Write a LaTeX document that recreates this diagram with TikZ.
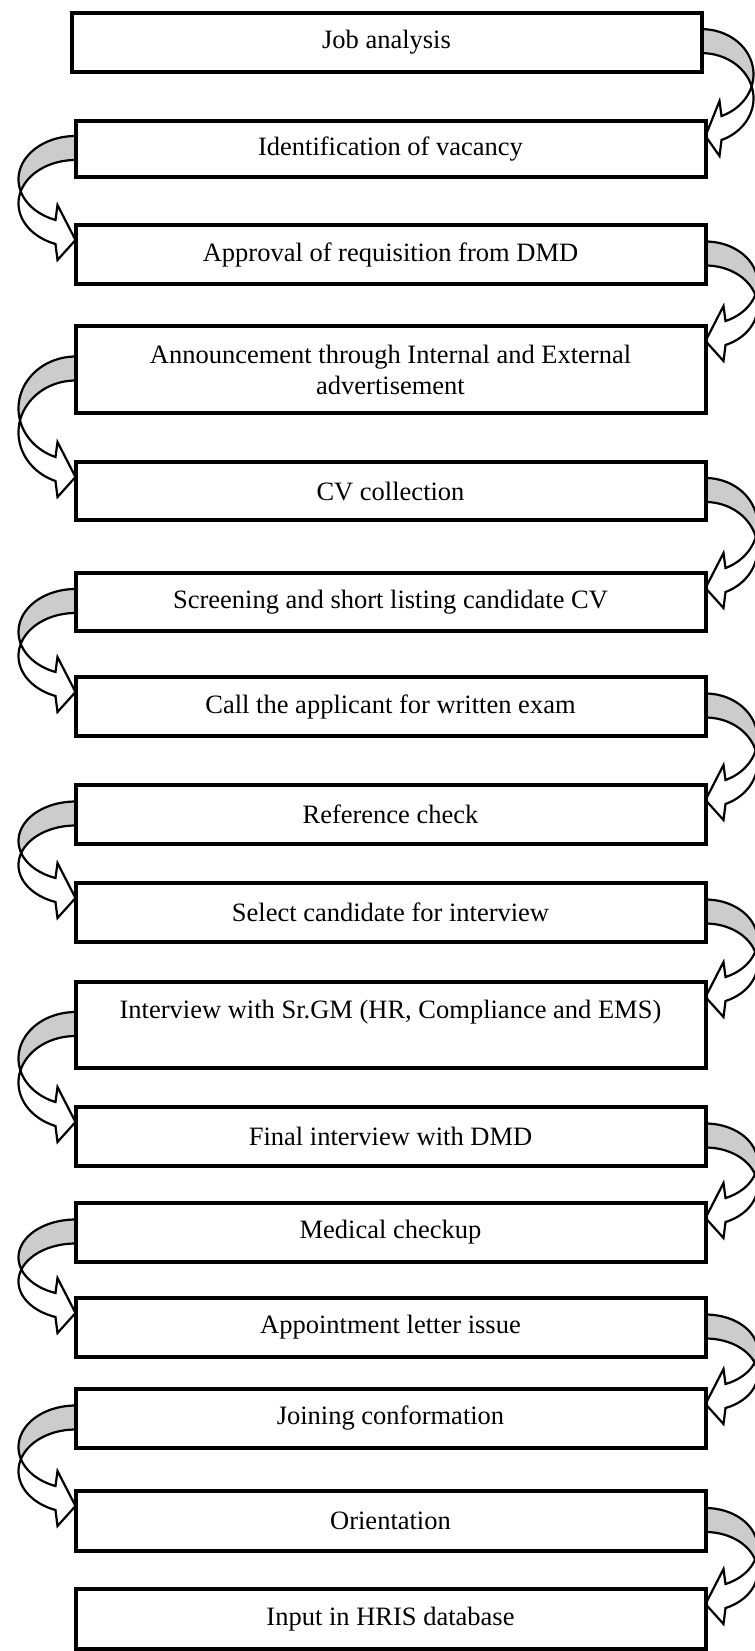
\documentclass[tikz,border=0pt]{standalone}
\usepackage{fontspec}
\setmainfont{Liberation Serif}
\usetikzlibrary{backgrounds}

\tikzset{
  stepbox/.style={draw, line width=2pt, outer sep=0pt, inner sep=2pt, fill=white,
    minimum width=315pt, align=center, font=\fontsize{13.25pt}{15.5pt}\selectfont},
  backface/.style={draw, fill=black!20, line width=1.1pt, line join=round},
  frontface/.style={draw, fill=white, line width=1.1pt, line join=miter},
}

% band thickness and head length of the curved arrows (px)
\newcommand\lkt{24}
\newcommand\lkh{20}

% curved block arrow from box #1 to box #2; #3 = 1 on the right side, -1 on the left side
\newcommand\curvedlink[3]{%
  \ifnum#3>0
    \pgfpointanchor{#1}{east}\pgfgetlastxy\lkax\lkay
    \pgfpointanchor{#2}{north east}\pgfgetlastxy\lkbx\lkby
    \def\lkw{52}%
  \else
    \pgfpointanchor{#1}{west}\pgfgetlastxy\lkax\lkay
    \pgfpointanchor{#2}{north west}\pgfgetlastxy\lkbx\lkby
    \def\lkw{57}%
  \fi
  \pgfmathsetmacro\lkd{#3}%
  \pgfmathsetmacro\lkW{\lkd*\lkw}%
  \pgfmathsetmacro\lka{2*\lkax}%
  \pgfmathsetmacro\lkb{2*\lkbx}%
  \pgfmathsetmacro\lktop{-2*\lkay-13}%
  \pgfmathsetmacro\lkend{-2*\lkby+19}%
  \pgfmathsetmacro\lks{sqrt(1-(\lkh/\lkw)^2)}%
  \pgfmathsetmacro\lkr{(\lkend-\lktop-\lkt)/(1+\lks)}%
  \pgfmathsetmacro\lkc{\lktop+\lkr}%
  \pgfmathsetmacro\lkp{asin(\lkt/(2*\lkr))}%
  \pgfmathsetmacro\lke{acos(\lkh/\lkw)}%
  % back of the band
  \filldraw[backface]
    plot[domain=0:1,samples=30,variable=\u]
      ({\lka+\lkW*cos(-90+(\lkp+90)*\u)},{\lkc+\lkr*sin(-90+(\lkp+90)*\u)})
    -- plot[domain=0:1,samples=30,variable=\u]
      ({\lka+\lkW*cos(-\lkp-(90-\lkp)*\u)},{\lkc+\lkt+\lkr*sin(-\lkp-(90-\lkp)*\u)})
    -- cycle;
  % front of the band with the head
  \filldraw[frontface]
    plot[domain=0:1,samples=30,variable=\u]
      ({\lka+\lkW*cos(-\lkp+(\lke+\lkp)*\u)},{\lkc+\lkt+\lkr*sin(-\lkp+(\lke+\lkp)*\u)})
    -- ({\lka+\lkd*(\lkh-2)},{\lkend+16})
    -- ({\lkb},{\lkend-4})
    -- ({\lka+\lkd*(\lkh-2)},{\lkend-\lkt-15})
    -- plot[domain=0:1,samples=30,variable=\u]
      ({\lka+\lkW*cos(\lke-(\lke-\lkp)*\u)},{\lkc+\lkr*sin(\lke-(\lke-\lkp)*\u)})
    -- cycle;
}

\begin{document}
\begin{tikzpicture}[x=0.5pt, y=-0.5pt]
  \useasboundingbox (0,0) rectangle (755,1651);

  \node[stepbox, minimum height=29.6pt] (b1)  at (386.5,42.1) {Job analysis};
  \node[stepbox, minimum height=28pt]   (b2)  at (390.5,149)  {Identification of vacancy};
  \node[stepbox, minimum height=29.5pt] (b3)  at (390.5,254.5) {Approval of requisition from DMD};
  \node[stepbox, minimum height=43.5pt] (b4)  at (390.5,369.5) {Announcement through Internal and External\\advertisement};
  \node[stepbox, minimum height=29pt]   (b5)  at (390.5,491)  {CV collection};
  \node[stepbox, minimum height=29pt]   (b6)  at (390.5,602)  {Screening and short listing candidate CV};
  \node[stepbox, minimum height=29.5pt] (b7)  at (390.5,706.5) {Call the applicant for written exam};
  \node[stepbox, minimum height=29.5pt] (b8)  at (390.5,814.5) {Reference check};
  \node[stepbox, minimum height=29.5pt] (b9)  at (390.5,912.5) {Select candidate for interview};
  \node[stepbox, minimum height=43pt]   (b10) at (390.5,1025) {Interview with Sr.GM (HR, Compliance and EMS)\\[-4pt]\strut};
  \node[stepbox, minimum height=29.5pt] (b11) at (390.5,1136.5) {Final interview with DMD};
  \node[stepbox, minimum height=29.5pt] (b12) at (390.5,1232.5) {Medical checkup};
  \node[stepbox, minimum height=29.5pt] (b13) at (390.5,1327.5) {Appointment letter issue};
  \node[stepbox, minimum height=29.5pt] (b14) at (390.5,1418.5) {Joining conformation};
  \node[stepbox, minimum height=30pt]   (b15) at (390.5,1521) {Orientation};
  \node[stepbox, minimum height=30pt]   (b16) at (390.5,1619) {Input in HRIS database};

  \begin{pgfonlayer}{background}
    \curvedlink{b1}{b2}{1}
    \curvedlink{b2}{b3}{-1}
    \curvedlink{b3}{b4}{1}
    \curvedlink{b4}{b5}{-1}
    \curvedlink{b5}{b6}{1}
    \curvedlink{b6}{b7}{-1}
    \curvedlink{b7}{b8}{1}
    \curvedlink{b8}{b9}{-1}
    \curvedlink{b9}{b10}{1}
    \curvedlink{b10}{b11}{-1}
    \curvedlink{b11}{b12}{1}
    \curvedlink{b12}{b13}{-1}
    \curvedlink{b13}{b14}{1}
    \curvedlink{b14}{b15}{-1}
    \curvedlink{b15}{b16}{1}
  \end{pgfonlayer}
\end{tikzpicture}
\end{document}
